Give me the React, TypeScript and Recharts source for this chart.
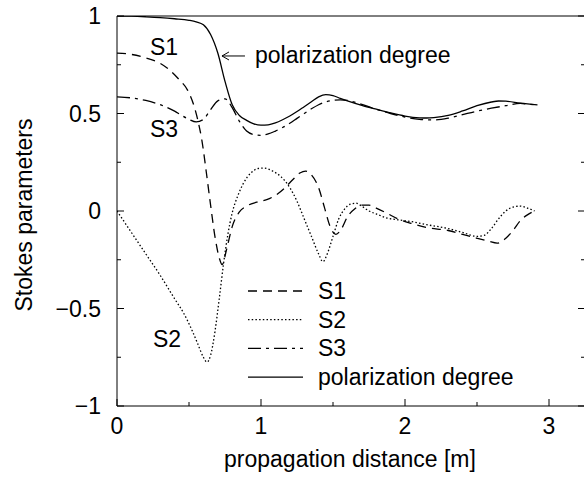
import { LineChart, Line, XAxis, YAxis, Legend, ReferenceDot } from "recharts";

// propagation distance [m] -> Stokes parameter values
const s1Dist = [0, 0.1, 0.2, 0.3, 0.37, 0.43, 0.49, 0.53, 0.56, 0.59, 0.62, 0.65, 0.68, 0.71, 0.73, 0.76, 0.8, 0.85, 0.9, 0.97, 1.04, 1.1, 1.16, 1.22, 1.27, 1.31, 1.35, 1.4, 1.44, 1.48, 1.52, 1.56, 1.6, 1.65, 1.7, 1.75, 1.8, 1.87, 1.95, 2.05, 2.15, 2.3, 2.4, 2.5, 2.58, 2.64, 2.7, 2.75, 2.8, 2.85, 2.9];
const s1Vals = [0.81, 0.803, 0.785, 0.757, 0.72, 0.675, 0.62, 0.55, 0.47, 0.36, 0.2, 0.03, -0.13, -0.24, -0.275, -0.2, -0.08, -0.005, 0.025, 0.045, 0.058, 0.08, 0.115, 0.16, 0.195, 0.205, 0.185, 0.12, 0.02, -0.08, -0.12, -0.09, -0.03, 0.01, 0.03, 0.03, 0.015, -0.01, -0.04, -0.065, -0.085, -0.1, -0.12, -0.14, -0.155, -0.165, -0.14, -0.1, -0.05, -0.02, 0.0];

const s2Dist = [0, 0.1, 0.2, 0.3, 0.4, 0.46, 0.52, 0.56, 0.6, 0.625, 0.65, 0.68, 0.71, 0.74, 0.77, 0.8, 0.84, 0.88, 0.93, 0.98, 1.02, 1.08, 1.14, 1.2, 1.25, 1.3, 1.35, 1.4, 1.43, 1.46, 1.5, 1.54, 1.58, 1.62, 1.66, 1.7, 1.75, 1.8, 1.87, 1.95, 2.05, 2.15, 2.3, 2.4, 2.5, 2.55, 2.6, 2.65, 2.7, 2.75, 2.8, 2.85, 2.9];
const s2Vals = [0, -0.11, -0.22, -0.33, -0.45, -0.52, -0.61, -0.68, -0.75, -0.775, -0.74, -0.62, -0.45, -0.27, -0.12, -0.01, 0.08, 0.145, 0.195, 0.218, 0.22, 0.205, 0.175, 0.12, 0.05, -0.04, -0.13, -0.22, -0.26, -0.22, -0.13, -0.04, 0.01, 0.035, 0.04, 0.025, 0.0, -0.015, -0.035, -0.045, -0.055, -0.07, -0.09, -0.11, -0.13, -0.125, -0.09, -0.04, 0.0, 0.02, 0.025, 0.015, 0.0];

const s3Dist = [0, 0.1, 0.2, 0.3, 0.4, 0.45, 0.5, 0.55, 0.6, 0.65, 0.7, 0.75, 0.8, 0.85, 0.9, 0.95, 1.0, 1.05, 1.1, 1.15, 1.2, 1.25, 1.3, 1.35, 1.4, 1.45, 1.5, 1.55, 1.6, 1.65, 1.7, 1.8, 1.9, 2.0, 2.1, 2.2, 2.3, 2.4, 2.5, 2.6, 2.7, 2.8, 2.85, 2.92];
const s3Vals = [0.585, 0.58, 0.567, 0.545, 0.512, 0.49, 0.47, 0.457, 0.47, 0.52, 0.565, 0.575, 0.53, 0.46, 0.41, 0.392, 0.388, 0.395, 0.41, 0.428, 0.45, 0.475, 0.5, 0.524, 0.545, 0.56, 0.567, 0.57, 0.567, 0.558, 0.547, 0.522, 0.5, 0.482, 0.47, 0.467, 0.476, 0.494, 0.512, 0.527, 0.54, 0.552, 0.548, 0.544];

const polDist = [0, 0.1, 0.2, 0.3, 0.4, 0.5, 0.55, 0.6, 0.65, 0.7, 0.75, 0.8, 0.85, 0.9, 0.95, 1.0, 1.05, 1.1, 1.15, 1.2, 1.25, 1.3, 1.35, 1.4, 1.45, 1.5, 1.55, 1.6, 1.7, 1.8, 1.9, 2.0, 2.1, 2.15, 2.2, 2.3, 2.4, 2.5, 2.6, 2.65, 2.7, 2.8, 2.92];
const polVals = [1.0, 0.999, 0.996, 0.992, 0.986, 0.978, 0.97, 0.955, 0.905, 0.81, 0.665, 0.545, 0.49, 0.465, 0.447, 0.44, 0.442, 0.452, 0.468, 0.487, 0.51, 0.535, 0.56, 0.585, 0.597, 0.592, 0.578, 0.565, 0.542, 0.522, 0.503, 0.487, 0.478, 0.477, 0.479, 0.49, 0.513, 0.54, 0.559, 0.564, 0.563, 0.553, 0.544];

const distanceTicks = [0, 0.5, 1, 1.5, 2, 2.5, 3];
const stokesTicks = [-1, -0.75, -0.5, -0.25, 0, 0.25, 0.5, 0.75, 1];

const toPoints = (xs: number[], ys: number[], key: string) =>
  xs.map((d, i) => ({ d, [key]: ys[i] }));

const s1Data = toPoints(s1Dist, s1Vals, "s1");
const s2Data = toPoints(s2Dist, s2Vals, "s2");
const s3Data = toPoints(s3Dist, s3Vals, "s3");
const polData = toPoints(polDist, polVals, "pol");

const FONT = "'Liberation Sans', Arial, Helvetica, sans-serif";
const FS = 23;

const dashes: Record<string, string | undefined> = {
  s1: "9 6",
  s2: "1.5 2.2",
  s3: "13 5 3 5",
  pol: undefined,
};

const fmt = (v: number) => (v < 0 ? "\u2212" + Math.abs(v) : String(v));
const isMajorX = (v: number) => Number.isInteger(v);
const isMajorY = (v: number) => Math.abs(v * 2 - Math.round(v * 2)) < 1e-6;

function BottomTick(props: any) {
  const { x, y, payload } = props;
  const major = isMajorX(payload.value);
  return (
    <g>
      <line x1={x} y1={y} x2={x} y2={y - (major ? 7 : 4)} stroke="#000" />
      {major && (
        <text x={x} y={y + 28} textAnchor="middle" fontFamily={FONT} fontSize={FS} fill="#000">
          {fmt(payload.value)}
        </text>
      )}
    </g>
  );
}

function TopTick(props: any) {
  const { x, y, payload } = props;
  const major = isMajorX(payload.value);
  return <line x1={x} y1={y} x2={x} y2={y + (major ? 7 : 4)} stroke="#000" />;
}

function LeftTick(props: any) {
  const { x, y, payload } = props;
  const major = isMajorY(payload.value);
  return (
    <g>
      <line x1={x} y1={y} x2={x + (major ? 7 : 4)} y2={y} stroke="#000" />
      {major && (
        <text x={x - 16} y={y + 8} textAnchor="end" fontFamily={FONT} fontSize={FS} fill="#000">
          {fmt(payload.value)}
        </text>
      )}
    </g>
  );
}

function RightTick(props: any) {
  const { x, y, payload } = props;
  const major = isMajorY(payload.value);
  return <line x1={x} y1={y} x2={x - (major ? 7 : 4)} y2={y} stroke="#000" />;
}

function LegendBox(props: any) {
  const items = (props.payload || []) as any[];
  return (
    <svg width={300} height={125} style={{ display: "block" }}>
      {items.map((item, i) => {
        const cy = 19 + i * 28.7;
        return (
          <g key={String(item.dataKey)}>
            <line x1={8} x2={63} y1={cy} y2={cy} stroke="#000" strokeWidth={1.3} strokeDasharray={dashes[String(item.dataKey)]} />
            <text x={78} y={cy + 8} fontFamily={FONT} fontSize={FS} fill="#000">
              {item.value}
            </text>
          </g>
        );
      })}
    </svg>
  );
}

const textLabel = (txt: string) => (p: any) => (
  <text x={p.viewBox.x} y={p.viewBox.y} fontFamily={FONT} fontSize={FS} fill="#000">
    {txt}
  </text>
);

const arrowLabel = (txt: string) => (p: any) => {
  const { x, y } = p.viewBox;
  return (
    <g>
      <line x1={x} y1={y} x2={x + 23} y2={y} stroke="#000" strokeWidth={1} />
      <polyline points={`${x + 7},${y - 4} ${x},${y} ${x + 7},${y + 4}`} fill="none" stroke="#000" strokeWidth={1} />
      <text x={x + 33} y={y + 7} fontFamily={FONT} fontSize={FS} fill="#000">
        {txt}
      </text>
    </g>
  );
};

export default function App() {
  return (
    <div style={{ position: "absolute", left: 0, top: 0, width: 584, height: 479, overflow: "hidden", background: "#fff" }}>
      <LineChart width={600} height={479} margin={{ top: 10, right: 10, bottom: 13, left: 57 }}>
        <XAxis
          xAxisId="bottom"
          dataKey="d"
          type="number"
          domain={[0, 3.25]}
          ticks={distanceTicks}
          interval={0}
          height={60}
          tickSize={0}
          tickMargin={0}
          tickLine={false}
          stroke="#000"
          tick={<BottomTick />}
          allowDataOverflow
          label={{
            content: () => (
              <text x={350} y={467} textAnchor="middle" fontFamily={FONT} fontSize={FS} fill="#000">
                propagation distance [m]
              </text>
            ),
          }}
        />
        <XAxis
          xAxisId="top"
          orientation="top"
          type="number"
          domain={[0, 3.25]}
          ticks={distanceTicks}
          interval={0}
          height={6}
          tickSize={0}
          tickMargin={0}
          tickLine={false}
          stroke="#000"
          tick={<TopTick />}
          allowDataOverflow
        />
        <YAxis
          yAxisId="left"
          type="number"
          domain={[-1, 1]}
          ticks={stokesTicks}
          interval={0}
          width={60}
          tickSize={0}
          tickMargin={0}
          tickLine={false}
          stroke="#000"
          tick={<LeftTick />}
          allowDataOverflow
          label={{
            content: () => (
              <text x={32} y={215} transform="rotate(-90, 32, 215)" textAnchor="middle" fontFamily={FONT} fontSize={FS} fill="#000">
                Stokes parameters
              </text>
            ),
          }}
        />
        <YAxis
          yAxisId="right"
          orientation="right"
          type="number"
          domain={[-1, 1]}
          ticks={stokesTicks}
          interval={0}
          width={5}
          tickSize={0}
          tickMargin={0}
          tickLine={false}
          stroke="#000"
          tick={<RightTick />}
          allowDataOverflow
        />
        <Legend
          layout="vertical"
          verticalAlign="middle"
          align="center"
          content={<LegendBox />}
          wrapperStyle={{ left: 240, top: 272, width: 300, height: 125 }}
        />
        <Line xAxisId="bottom" yAxisId="left" data={s1Data} dataKey="s1" name="S1" type="monotone" stroke="#000" strokeWidth={1.3} strokeDasharray={dashes.s1} dot={false} activeDot={false} isAnimationActive={false} />
        <Line xAxisId="bottom" yAxisId="left" data={s2Data} dataKey="s2" name="S2" type="monotone" stroke="#000" strokeWidth={1.3} strokeDasharray={dashes.s2} dot={false} activeDot={false} isAnimationActive={false} />
        <Line xAxisId="bottom" yAxisId="left" data={s3Data} dataKey="s3" name="S3" type="monotone" stroke="#000" strokeWidth={1.3} strokeDasharray={dashes.s3} dot={false} activeDot={false} isAnimationActive={false} />
        <Line xAxisId="bottom" yAxisId="left" data={polData} dataKey="pol" name="polarization degree" type="monotone" stroke="#000" strokeWidth={1.3} dot={false} activeDot={false} isAnimationActive={false} />
        <ReferenceDot xAxisId="bottom" yAxisId="left" x={0.229} y={0.8} r={0} fill="none" stroke="none" label={textLabel("S1")} />
        <ReferenceDot xAxisId="bottom" yAxisId="left" x={0.229} y={0.379} r={0} fill="none" stroke="none" label={textLabel("S3")} />
        <ReferenceDot xAxisId="bottom" yAxisId="left" x={0.25} y={-0.697} r={0} fill="none" stroke="none" label={textLabel("S2")} />
        <ReferenceDot xAxisId="bottom" yAxisId="left" x={0.729} y={0.795} r={0} fill="none" stroke="none" label={arrowLabel("polarization degree")} />
      </LineChart>
    </div>
  );
}
